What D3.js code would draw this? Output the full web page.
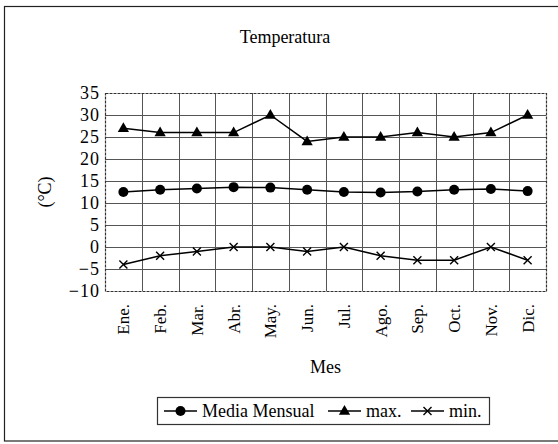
<!DOCTYPE html>
<html>
<head>
<meta charset="utf-8">
<script src="https://cdn.jsdelivr.net/npm/d3@7"></script>
<style>
  body { margin: 0; background: #fff; }
  text { font-family: "Liberation Serif", "Times New Roman", serif; fill: #000; }
</style>
</head>
<body>
<div class="mainCont"></div>
<script>
var meses = ["Ene.", "Feb.", "Mar.", "Abr.", "May.", "Jun.", "Jul.", "Ago.", "Sep.", "Oct.", "Nov.", "Dic."];
var media = [12.5, 13, 13.3, 13.6, 13.5, 13, 12.5, 12.4, 12.6, 13, 13.2, 12.7];
var maxT = [27, 26, 26, 26, 30, 24, 25, 25, 26, 25, 26, 30];
var minT = [-4, -2, -1, 0, 0, -1, 0, -2, -3, -3, 0, -3];
var yTicks = [35, 30, 25, 20, 15, 10, 5, 0, -5, -10];
var seriesNames = ["Media Mensual", "max.", "min."];

var serif = "'Liberation Serif', 'Times New Roman', serif";
var width = 558, height = 444;
var plot = { left: 105, right: 546, top: 93, bottom: 291 };

var svg = d3.select(".mainCont").append("svg")
    .attr("width", width)
    .attr("height", height);

// outer frame
svg.append("rect")
    .attr("x", 4.5).attr("y", 6.5)
    .attr("width", 560).attr("height", 434.5)
    .attr("fill", "none").attr("stroke", "#222").attr("stroke-width", 1.2);

var x = d3.scaleBand().domain(meses).range([plot.left, plot.right]);
var y = d3.scaleLinear().domain([-10, 35]).range([plot.bottom, plot.top]);

// grid
svg.append("g").selectAll("line.h")
    .data(yTicks.slice(1, -1))
    .enter().append("line")
    .attr("x1", plot.left).attr("x2", plot.right)
    .attr("y1", function(d) { return Math.round(y(d)) + 0.5; })
    .attr("y2", function(d) { return Math.round(y(d)) + 0.5; })
    .attr("stroke", "#555").attr("stroke-width", 1);

svg.append("g").selectAll("line.v")
    .data(meses.slice(1))
    .enter().append("line")
    .attr("x1", function(d) { return Math.round(x(d)) + 0.5; })
    .attr("x2", function(d) { return Math.round(x(d)) + 0.5; })
    .attr("y1", plot.top).attr("y2", plot.bottom)
    .attr("stroke", "#555").attr("stroke-width", 1);

// plot border
svg.append("rect")
    .attr("x", plot.left + 0.5).attr("y", plot.top + 0.5)
    .attr("width", plot.right - plot.left).attr("height", plot.bottom - plot.top)
    .attr("fill", "none").attr("stroke", "#333").attr("stroke-width", 1.2)
    .attr("stroke-dasharray", "3,1");

// y axis labels
var yAxis = d3.axisLeft(y).tickValues(yTicks).tickSize(0).tickPadding(5);
var gy = svg.append("g")
    .attr("transform", "translate(" + plot.left + ",0)")
    .call(yAxis);
gy.select(".domain").remove();
gy.selectAll("text")
    .style("font-family", serif)
    .style("font-size", "18px")
    .style("letter-spacing", "1px")
    .attr("fill", "#000");

// x axis labels, rotated
var xAxis = d3.axisBottom(x).tickSize(0).tickPadding(0);
var gx = svg.append("g")
    .attr("transform", "translate(0," + plot.bottom + ")")
    .call(xAxis);
gx.select(".domain").remove();
gx.selectAll("text")
    .style("font-family", serif)
    .style("font-size", "17px")
    .attr("fill", "#000")
    .attr("transform", "rotate(-90)")
    .attr("text-anchor", "end")
    .attr("x", -13)
    .attr("y", 0)
    .attr("dy", "0.35em");

// titles
svg.append("text")
    .attr("x", 285).attr("y", 43)
    .attr("text-anchor", "middle")
    .style("font-size", "18px")
    .text("Temperatura");

svg.append("text")
    .attr("x", (plot.left + plot.right) / 2).attr("y", 373)
    .attr("text-anchor", "middle")
    .style("font-size", "18px")
    .text("Mes");

svg.append("text")
    .attr("transform", "translate(51,192) rotate(-90)")
    .attr("text-anchor", "middle")
    .style("font-size", "18px")
    .text("(\u00B0C)");

// markers
function drawMarker(g, type, cx, cy) {
    if (type === "circle") {
        g.append("circle").attr("cx", cx).attr("cy", cy).attr("r", 5).attr("fill", "#000");
    } else if (type === "triangle") {
        g.append("path")
            .attr("d", d3.symbol().type(d3.symbolTriangle).size(55)())
            .attr("transform", "translate(" + cx + "," + (cy + 0.5) + ")")
            .attr("fill", "#000");
    } else {
        var s = 4;
        g.append("path")
            .attr("d", "M" + (cx - s) + "," + (cy - s) + "L" + (cx + s) + "," + (cy + s) +
                "M" + (cx - s) + "," + (cy + s) + "L" + (cx + s) + "," + (cy - s))
            .attr("stroke", "#000").attr("stroke-width", 1.4).attr("fill", "none");
    }
}

var series = [
    { name: seriesNames[0], values: media, marker: "circle" },
    { name: seriesNames[1], values: maxT, marker: "triangle" },
    { name: seriesNames[2], values: minT, marker: "x" }
];

var line = d3.line()
    .x(function(d, i) { return x(meses[i]) + x.bandwidth() / 2; })
    .y(function(d) { return y(d); });

series.forEach(function(s) {
    var g = svg.append("g");
    g.append("path")
        .datum(s.values)
        .attr("d", line)
        .attr("fill", "none")
        .attr("stroke", "#000")
        .attr("stroke-width", 1.5);
    s.values.forEach(function(v, i) {
        drawMarker(g, s.marker, x(meses[i]) + x.bandwidth() / 2, y(v));
    });
});

// legend
var legend = svg.append("g");
legend.append("rect")
    .attr("x", 157.5).attr("y", 397.5)
    .attr("width", 332).attr("height", 27)
    .attr("fill", "#fff").attr("stroke", "#333").attr("stroke-width", 1.2);

var legX = [164, 328, 411];
series.forEach(function(s, i) {
    var lx = legX[i], ly = 411;
    legend.append("line")
        .attr("x1", lx).attr("x2", lx + 33)
        .attr("y1", ly).attr("y2", ly)
        .attr("stroke", "#000").attr("stroke-width", 1.5);
    drawMarker(legend, s.marker, lx + 16.5, ly);
    legend.append("text")
        .attr("x", lx + 38).attr("y", ly + 6)
        .style("font-size", "18px")
        .text(s.name);
});
</script>
</body>
</html>
